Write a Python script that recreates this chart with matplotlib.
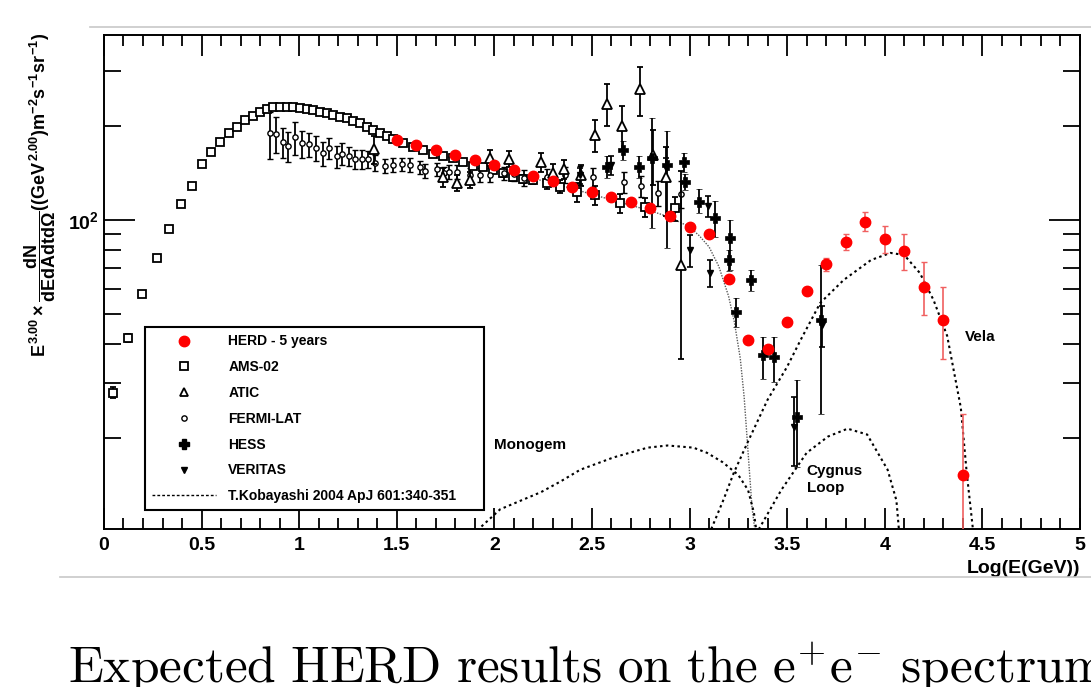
import numpy as np
import matplotlib
matplotlib.use("Agg")
import matplotlib.pyplot as plt
from matplotlib.lines import Line2D
from matplotlib.ticker import FixedLocator, MultipleLocator, NullFormatter

plt.rcParams['font.family'] = ['Liberation Sans', 'DejaVu Sans']
plt.rcParams['font.weight'] = 'bold'
plt.rcParams['mathtext.fontset'] = 'custom'
plt.rcParams['mathtext.rm'] = 'Liberation Sans:bold'
plt.rcParams['mathtext.it'] = 'Liberation Sans:bold'
plt.rcParams['mathtext.bf'] = 'Liberation Sans:bold'

# ---- data (x = log10(E/GeV)) ----
ams_x = [0.046, 0.123, 0.195, 0.272, 0.333, 0.395, 0.451, 0.503, 0.549, 0.595,
         0.641, 0.682, 0.723, 0.764, 0.800, 0.836, 0.867, 0.903, 0.938, 0.969,
         1.005, 1.041, 1.072, 1.108, 1.144, 1.174, 1.210, 1.246, 1.277, 1.313,
         1.349, 1.379, 1.415, 1.451, 1.482, 1.533, 1.585, 1.636, 1.687, 1.738,
         1.790, 1.841, 1.892, 1.944, 1.995, 2.046, 2.097, 2.149, 2.200, 2.272,
         2.338, 2.426, 2.518, 2.646, 2.774, 2.928]
ams_y = [27.9, 41.9, 57.9, 75.5, 93.6, 112.5, 128.5, 151, 165, 178,
         190, 199, 209, 215, 222, 227, 230, 231, 231, 231,
         229, 227, 225, 222, 220, 217, 214, 212, 208, 205,
         199, 194, 190, 186, 182, 177, 171, 168, 163, 160,
         158, 153, 149, 148, 145, 141, 137, 135, 134, 131,
         128, 123, 120, 113, 110, 109]
ams_err = [0.04, 0.03, 0.025, 0.02, 0.015, 0.015, 0.015, 0.015, 0.015, 0.015,
           0.015, 0.015, 0.015, 0.015, 0.015, 0.015, 0.015, 0.015, 0.015, 0.015,
           0.015, 0.015, 0.015, 0.015, 0.015, 0.015, 0.015, 0.015, 0.015, 0.015,
           0.015, 0.015, 0.015, 0.015, 0.015, 0.015, 0.015, 0.015, 0.02, 0.02,
           0.02, 0.02, 0.02, 0.025, 0.025, 0.025, 0.03, 0.03, 0.03, 0.04,
           0.05, 0.07, 0.07, 0.07, 0.07, 0.09]

fermi_x = [0.851, 0.882, 0.916, 0.945, 0.979, 1.014, 1.048, 1.087, 1.122, 1.155,
           1.193, 1.219, 1.253, 1.287, 1.322, 1.355, 1.390, 1.441, 1.481, 1.527,
           1.569, 1.621, 1.646, 1.706, 1.740, 1.766, 1.809, 1.877, 1.928, 1.979,
           2.048, 2.099, 2.150, 2.272, 2.364, 2.441, 2.508, 2.662, 2.749, 2.841,
           2.954]
fermi_y = [189.6, 189, 178, 172.6, 184, 176, 175, 170, 163.6, 170,
           160, 163, 160, 156.5, 156.5, 156.5, 152.6, 149, 150, 151,
           150, 147.5, 143.9, 145.4, 141, 142.8, 142.8, 139.4, 139.4, 139.4,
           141, 140.4, 136.4, 137.4, 139.4, 139.4, 137.4, 132.4, 128.5, 122,
           121]
fermi_err = [0.17, 0.13, 0.11, 0.11, 0.12, 0.10, 0.09, 0.09, 0.09, 0.08,
             0.08, 0.08, 0.07, 0.07, 0.07, 0.06, 0.06, 0.05, 0.05, 0.05,
             0.05, 0.05, 0.05, 0.05, 0.05, 0.05, 0.05, 0.05, 0.05, 0.05,
             0.05, 0.05, 0.06, 0.06, 0.06, 0.07, 0.07, 0.08, 0.08, 0.09,
             0.10]

atic_x = [1.381, 1.738, 1.810, 1.877, 1.979, 2.077, 2.241, 2.303, 2.359, 2.446,
          2.518, 2.579, 2.656, 2.744, 2.815, 2.882, 2.954]
atic_y = [168.5, 137.4, 131.4, 134.4, 158, 156.9, 153.4, 141.4, 145.7, 139.4,
          187.3, 235.3, 200, 263, 161.6, 137.4, 71.7]
atic_elo = [0.10, 0.07, 0.06, 0.06, 0.06, 0.06, 0.07, 0.07, 0.07, 0.08,
            0.12, 0.15, 0.16, 0.18, 0.20, 0.25, 0.50]
atic_ehi = [0.10, 0.07, 0.06, 0.06, 0.06, 0.06, 0.07, 0.07, 0.07, 0.08,
            0.12, 0.16, 0.16, 0.18, 0.20, 0.25, 1.00]

hess_x = [2.578, 2.658, 2.740, 2.809, 2.885, 2.971, 2.979, 3.048, 3.133, 3.210,
          3.200, 3.313, 3.236, 3.379, 3.431, 3.549, 3.672]
hess_y = [148.2, 167.6, 148.2, 157.6, 150, 153.7, 132.7, 114.5, 101.2, 87.4,
          74.4, 64.2, 50.8, 36.9, 36.4, 23.4, 47.8]
hess_elo = [0.08, 0.07, 0.08, 0.40, 0.46, 0.07, 0.06, 0.08, 0.13, 0.21,
            0.08, 0.08, 0.11, 0.16, 0.17, 0.31, 0.50]
hess_ehi = [0.08, 0.07, 0.08, 0.35, 0.29, 0.07, 0.06, 0.10, 0.14, 0.14,
            0.08, 0.08, 0.11, 0.14, 0.16, 0.31, 0.50]

veritas_x = [2.441, 2.600, 2.877, 3.000, 3.097, 3.103, 3.533, 3.680]
veritas_y = [139, 150, 146.6, 80.1, 110.9, 67.6, 21.7, 46]
veritas_err = [0.06, 0.07, 0.08, 0.12, 0.08, 0.10, 0.25, 0.15]

herd_x = [1.5, 1.6, 1.7, 1.8, 1.9, 2.0, 2.1, 2.2, 2.3, 2.4,
          2.5, 2.6, 2.7, 2.8, 2.9, 3.0, 3.1, 3.2, 3.3, 3.4,
          3.5, 3.6, 3.7, 3.8, 3.9, 4.0, 4.1, 4.2, 4.3, 4.4]
herd_y = [180.4, 173.9, 167.6, 161.6, 155.7, 150, 144.6, 138.3, 133.3, 127.9,
          123.2, 118.3, 113.9, 109, 103.2, 95.2, 90, 64.5, 41.2, 38.6,
          47.2, 59.3, 72.1, 85.2, 98.8, 86.9, 79.6, 61.1, 47.6, 15.2]
herd_elo = [0.005, 0.005, 0.005, 0.005, 0.005, 0.005, 0.005, 0.005, 0.005, 0.01,
            0.01, 0.01, 0.01, 0.01, 0.01, 0.01, 0.015, 0.015, 0.02, 0.02,
            0.025, 0.03, 0.05, 0.06, 0.07, 0.10, 0.13, 0.19, 0.25, 0.99]
herd_ehi = [0.005, 0.005, 0.005, 0.005, 0.005, 0.005, 0.005, 0.005, 0.005, 0.01,
            0.01, 0.01, 0.01, 0.01, 0.01, 0.01, 0.015, 0.015, 0.02, 0.02,
            0.025, 0.03, 0.05, 0.06, 0.07, 0.10, 0.13, 0.20, 0.28, 0.57]

# T.Kobayashi 2004 model curves
bg_x = [1.5, 1.8, 2.0, 2.2, 2.4, 2.6, 2.8, 2.9, 3.0, 3.05,
        3.1, 3.15, 3.2, 3.23, 3.26, 3.28, 3.3, 3.32, 3.345]
bg_y = [176, 157, 146, 136, 126, 116, 107, 102, 95, 89,
        82, 71, 57, 47, 36, 27, 18, 12, 9]
mono_x = [1.89, 2.03, 2.24, 2.34, 2.44, 2.61, 2.785, 2.887, 3.02, 3.09,
          3.17, 3.25, 3.30, 3.33, 3.345]
mono_y = [9.8, 11.8, 13.4, 14.5, 15.8, 17.3, 18.6, 18.9, 18.6, 17.9,
          16.7, 15.2, 13.6, 11.5, 9.8]
cyg_x = [3.34, 3.47, 3.60, 3.71, 3.81, 3.91, 4.015, 4.06, 4.075]
cyg_y = [9.8, 13.6, 17.9, 20.2, 21.4, 20.5, 15.8, 12.6, 9.8]
vela_x = [3.10, 3.175, 3.226, 3.297, 3.40, 3.50, 3.57, 3.67, 3.79, 3.93,
          4.03, 4.10, 4.18, 4.25, 4.32, 4.39, 4.42, 4.455]
vela_y = [9.8, 12.7, 15.4, 19.3, 26.5, 33.8, 41.3, 54.2, 64.2, 74.4,
          78.4, 77.2, 67.6, 55.4, 42.5, 25, 15.5, 9.8]


def asym(y, lo, hi):
    y = np.array(y)
    return [y * np.array(lo), y * np.array(hi)]


fig = plt.figure(figsize=(10.91, 6.87), dpi=100)
ax = fig.add_axes([0.0953, 0.23, 0.8945, 0.719])

dot = (0, (1.2, 1.6))
ax.plot(bg_x, bg_y, color='0.35', lw=1.0, ls=(0, (1, 1)), zorder=2)
for cx, cy in [(mono_x, mono_y), (cyg_x, cyg_y), (vela_x, vela_y)]:
    ax.plot(cx, cy, color='black', lw=1.5, ls=dot, zorder=2)

eb = dict(ecolor='black', elinewidth=1.3, capsize=2.5, capthick=1.2, ls='none')
ax.errorbar(ams_x, ams_y, yerr=asym(ams_y, ams_err, ams_err), fmt='s', ms=6,
            mfc='white', mec='black', mew=1.3, zorder=3, **eb)
ax.errorbar(fermi_x, fermi_y, yerr=asym(fermi_y, fermi_err, fermi_err), fmt='o',
            ms=3.8, mfc='white', mec='black', mew=1.0, zorder=3, **eb)
ax.errorbar(atic_x, atic_y, yerr=asym(atic_y, atic_elo, atic_ehi), fmt='^', ms=6.5,
            mfc='white', mec='black', mew=1.3, zorder=4, **eb)
ax.errorbar(hess_x, hess_y, yerr=asym(hess_y, hess_elo, hess_ehi), fmt='P', ms=6.5,
            mfc='black', mec='black', mew=0.5, zorder=4, **eb)
ax.errorbar(veritas_x, veritas_y, yerr=asym(veritas_y, veritas_err, veritas_err),
            fmt='v', ms=4.5, mfc='black', mec='black', zorder=4, **eb)
ax.errorbar(herd_x, herd_y, yerr=asym(herd_y, herd_elo, herd_ehi), fmt='o', ms=7.5,
            mfc='red', mec='red', ecolor='#f06060', elinewidth=1.2, capsize=2.5,
            capthick=1.0, ls='none', zorder=6)

ax.set_xlim(0, 5)
ax.set_yscale('log')
ax.set_ylim(10.2, 392)

ax.set_xticks([0, 0.5, 1, 1.5, 2, 2.5, 3, 3.5, 4, 4.5, 5])
ax.set_xticklabels(['0', '0.5', '1', '1.5', '2', '2.5', '3', '3.5', '4', '4.5', '5'])
ax.xaxis.set_minor_locator(MultipleLocator(0.1))
ax.yaxis.set_major_locator(FixedLocator([100]))
ax.yaxis.set_minor_locator(FixedLocator([20, 30, 40, 50, 60, 70, 80, 90, 200, 300]))
ax.yaxis.set_minor_formatter(NullFormatter())
ax.set_yticklabels([r'$10^{2}$'])

ax.tick_params(which='both', direction='in', top=True, right=True, width=1.3,
               labelsize=14, pad=6)
ax.tick_params(axis='x', which='major', length=15)
ax.tick_params(axis='x', which='minor', length=8)
ax.tick_params(axis='y', which='major', length=22, pad=4)
ax.tick_params(axis='y', which='minor', length=12)
for lab in ax.get_xticklabels() + ax.get_yticklabels():
    lab.set_fontweight('bold')
for sp in ax.spines.values():
    sp.set_linewidth(1.4)

ax.text(1.0, -0.062, 'Log(E(GeV))', transform=ax.transAxes, ha='right', va='top',
        fontsize=14, fontweight='bold')
fig.text(0.037, 0.952,
         r'$E^{3.00}\times\dfrac{dN}{dEdAdtd\Omega}((GeV^{2.00})m^{-2}s^{-1}sr^{-1})$',
         rotation=90, ha='center', va='top', fontsize=13)

# labels of the model components
ax.text(2.0, 18.4, 'Monogem', fontsize=11, fontweight='bold')
ax.text(3.6, 14.7, 'Cygnus\nLoop', fontsize=11, fontweight='bold', va='center',
        linespacing=1.25)
ax.text(4.41, 42, 'Vela', fontsize=11, fontweight='bold', va='center')

handles = [
    Line2D([], [], ls='none', marker='o', ms=7.5, mfc='red', mec='red'),
    Line2D([], [], ls='none', marker='s', ms=6, mfc='white', mec='black', mew=1.3),
    Line2D([], [], ls='none', marker='^', ms=6, mfc='white', mec='black', mew=1.3),
    Line2D([], [], ls='none', marker='o', ms=3.8, mfc='white', mec='black', mew=1.0),
    Line2D([], [], ls='none', marker='P', ms=7, mfc='black', mec='black'),
    Line2D([], [], ls='none', marker='v', ms=5, mfc='black', mec='black'),
    Line2D([], [], color='black', lw=1.0, ls=(0, (2, 1.5))),
]
labels = ['HERD - 5 years', 'AMS-02', 'ATIC', 'FERMI-LAT', 'HESS', 'VERITAS',
          'T.Kobayashi 2004 ApJ 601:340-351']
leg = ax.legend(handles, labels, loc='lower left',
                bbox_to_anchor=(0.042, 0.038, 0.347, 0.375), mode='expand',
                fancybox=False, edgecolor='black', framealpha=1, fontsize=10,
                handlelength=4.6, handletextpad=0.9, labelspacing=0.85,
                borderpad=0.5, borderaxespad=0)
leg.get_frame().set_linewidth(1.5)
for t in leg.get_texts():
    t.set_fontweight('bold')

# page separator lines and caption
fig.add_artist(Line2D([90 / 1091, 1], [1 - 27 / 687] * 2, color='#c8c8c8', lw=1.2))
fig.add_artist(Line2D([60 / 1091, 1], [1 - 577 / 687] * 2, color='#c8c8c8', lw=1.2))
fig.text(0.062, 0.006, r'$\mathrm{Expected\ HERD\ results\ on\ the\ e^{+}e^{-}\ spectrum}$',
         math_fontfamily='cm', fontsize=37, ha='left', va='baseline')

fig.savefig('out.png', dpi=100)
